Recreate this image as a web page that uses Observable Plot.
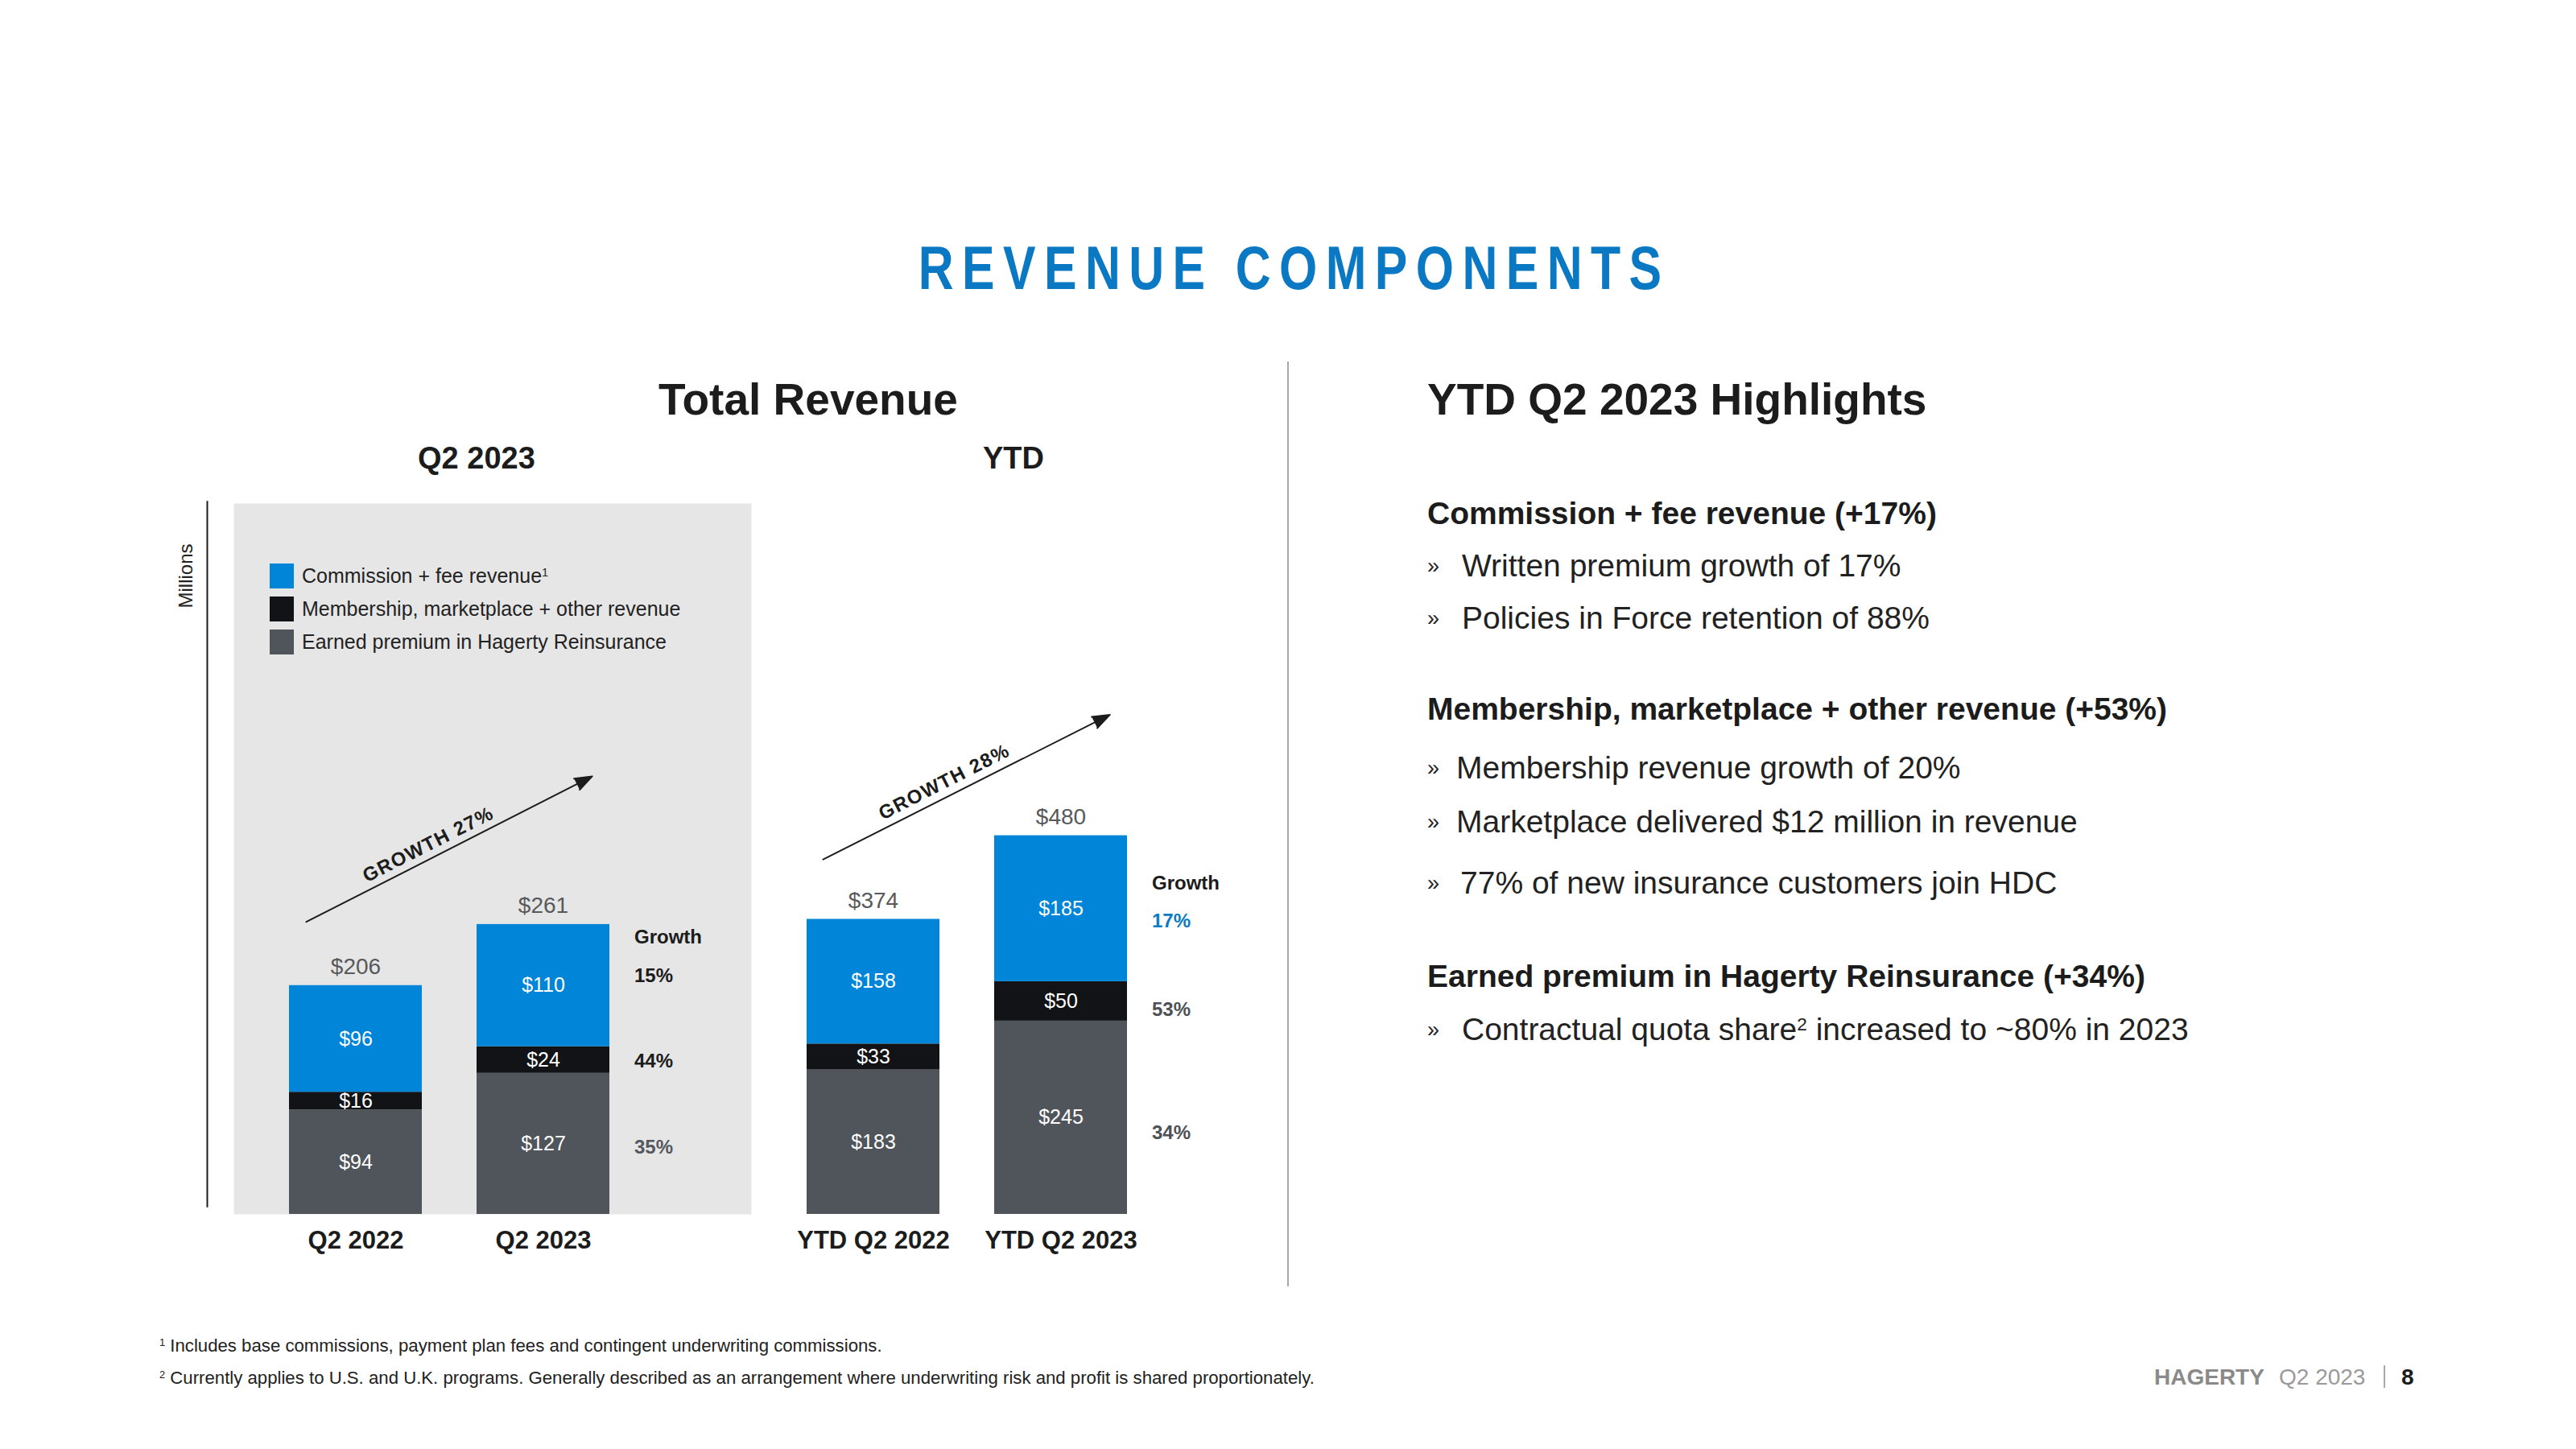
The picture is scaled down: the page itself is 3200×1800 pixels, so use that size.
<!DOCTYPE html>
<html>
<head>
<meta charset="utf-8">
<script src="https://cdn.jsdelivr.net/npm/d3@7"></script>
<script src="https://cdn.jsdelivr.net/npm/@observablehq/plot@0.6"></script>
<style>
  html, body { margin: 0; padding: 0; background: #ffffff; }
  body { width: 3200px; height: 1800px; position: relative; overflow: hidden;
         font-family: "Liberation Sans", Arial, Helvetica, sans-serif; color: #1c1c1c; }
  .abs { position: absolute; white-space: nowrap; line-height: 1; }
  .title { left: 0; width: 3200px; text-align: center; }
  .title span { display: inline-block; font-family: "Liberation Sans", Arial, sans-serif; font-weight: bold; font-size: 76px;
                letter-spacing: 13px; color: #0a78c2; transform: scaleX(0.8); transform-origin: 50% 50%; margin-left: 15px; }
  .h1 { font-weight: bold; font-size: 55px; color: #1c1c1c; }
  .h2 { font-weight: bold; font-size: 38px; color: #1c1c1c; }
  .sec { font-weight: bold; font-size: 39px; color: #1c1c1c; left: 1773px; }
  .bul { font-size: 39px; color: #222; left: 1773px; }
  .bul .mark { font-size: 27px; display: inline-block; vertical-align: 4px; }
  .bul .txt { position: absolute; top: 0; }
  .foot { font-size: 22.2px; color: #222; left: 198px; }
  sup { font-size: 0.58em; vertical-align: 0.55em; line-height: 0; }
  .legrow { position: absolute; left: 335px; height: 31px; z-index: 3; }
  .legrow .sw { position: absolute; left: 0; top: 0; width: 30px; height: 31px; }
  .legrow .lt { position: absolute; left: 40px; top: 3px; font-size: 25px; line-height: 1; color: #222; white-space: nowrap; }
  .panel { position: absolute; top: 560px; }
</style>
</head>
<body>
<div class="abs title" style="top:295px"><span>REVENUE COMPONENTS</span></div>

<div class="abs h1" id="tr" style="top:469px">Total Revenue</div>
<div class="abs h2" id="g1" style="top:550px">Q2 2023</div>
<div class="abs h2" id="g2" style="top:550px">YTD</div>

<div class="panel" id="q2panel" style="left:200px"></div>
<div class="panel" id="ytdpanel" style="left:960px"></div>
<div id="legend"></div>

<div class="abs" style="left:1599px; top:449px; width:2px; height:1149px; background:#a9a9a9"></div>

<div class="abs h1" style="left:1773px; top:469px">YTD Q2 2023 Highlights</div>
<div class="abs sec" style="top:618px">Commission + fee revenue (+17%)</div>
<div class="abs bul" style="top:683px"><span class="mark">»</span><span class="txt" style="left:43px">Written premium growth of 17%</span></div>
<div class="abs bul" style="top:748px"><span class="mark">»</span><span class="txt" style="left:43px">Policies in Force retention of 88%</span></div>
<div class="abs sec" style="top:861px">Membership, marketplace + other revenue (+53%)</div>
<div class="abs bul" style="top:934px"><span class="mark">»</span><span class="txt" style="left:36px">Membership revenue growth of 20%</span></div>
<div class="abs bul" style="top:1001px"><span class="mark">»</span><span class="txt" style="left:36px">Marketplace delivered $12 million in revenue</span></div>
<div class="abs bul" style="top:1077px"><span class="mark">»</span><span class="txt" style="left:41px">77% of new insurance customers join HDC</span></div>
<div class="abs sec" style="top:1193px">Earned premium in Hagerty Reinsurance (+34%)</div>
<div class="abs bul" style="top:1259px"><span class="mark">»</span><span class="txt" style="left:43px">Contractual quota share<sup>2</sup> increased to ~80% in 2023</span></div>

<div class="abs foot" style="top:1661px"><sup>1</sup> Includes base commissions, payment plan fees and contingent underwriting commissions.</div>
<div class="abs foot" style="top:1701px"><sup>2</sup> Currently applies to U.S. and U.K. programs. Generally described as an arrangement where underwriting risk and profit is shared proportionately.</div>

<div class="abs" style="left:2676px; top:1697px; font-size:28px; font-weight:bold; color:#8a8a8a">HAGERTY</div>
<div class="abs" style="left:2831px; top:1697px; font-size:28px; color:#9a9a9a">Q2 2023</div>
<div class="abs" style="left:2961px; top:1696px; width:2px; height:28px; background:#a8a8a8"></div>
<div class="abs" style="left:2983px; top:1697px; font-size:28px; font-weight:bold; color:#1c1c1c">8</div>

<script>
// ---------------- data ----------------
const seriesNames = ["Commission + fee revenue", "Membership, marketplace + other revenue", "Earned premium in Hagerty Reinsurance"];
const seriesNotes = ["1", "", ""];
const seriesColors = ["#0085d8", "#121316", "#50555c"];

const q2Periods = ["Q2 2022", "Q2 2023"];
const q2Commission = [96, 110];
const q2Membership = [16, 24];
const q2Earned = [94, 127];
const q2Totals = [206, 261];
const q2Growth = ["15%", "44%", "35%"];
const q2Overall = "GROWTH 27%";

const ytdPeriods = ["YTD Q2 2022", "YTD Q2 2023"];
const ytdCommission = [158, 185];
const ytdMembership = [33, 50];
const ytdEarned = [183, 245];
const ytdTotals = [374, 480];
const ytdGrowth = ["17%", "53%", "34%"];
const ytdOverall = "GROWTH 28%";

// annotation anchors, in data units ($ millions)
const q2ArrowEnds = [286, 372];
const ytdArrowEnds = [482, 602];
const q2ArrowLabelAt = 333;
const ytdArrowLabelAt = 548;

// ---------------- build ----------------
function buildRows(periods, comm, memb, earn) {
  const rows = [];
  periods.forEach((p, i) => {
    rows.push({period: p, series: seriesNames[2], si: 2, value: earn[i]});
    rows.push({period: p, series: seriesNames[1], si: 1, value: memb[i]});
    rows.push({period: p, series: seriesNames[0], si: 0, value: comm[i]});
  });
  return rows;
}

function panel(cfg) {
  const rows = buildRows(cfg.periods, cfg.comm, cfg.memb, cfg.earn);
  const last = cfg.periods[1];
  const totals = cfg.periods.map((p, i) => ({period: p, total: cfg.totals[i]}));
  const marks = [];
  if (cfg.background) {
    marks.push(Plot.frame({fill: "#e6e6e6", stroke: "none", insetLeft: cfg.bgInsetLeft, insetRight: cfg.bgInsetRight}));
  }
  if (cfg.axisLine) {
    marks.push(Plot.ruleX([cfg.periods[0]], {x: d => d, y1: cfg.axisLine[0], y2: cfg.axisLine[1], dx: cfg.axisDx, stroke: "#1c1c1c", strokeWidth: 2}));
    marks.push(Plot.text(["Millions"], {frameAnchor: "top-left", text: d => d, rotate: -90, textAnchor: "middle", lineAnchor: "middle",
      dx: cfg.millionsDx, dy: 90, fontSize: 24, fill: "#222"}));
  }
  marks.push(Plot.barY(rows, {x: "period", y: "value", fill: "series"}));
  marks.push(Plot.text(rows, Plot.stackY({x: "period", y: "value", z: "series", text: d => "$" + d.value, fill: "white", fontSize: 25})));
  marks.push(Plot.text(totals, {x: "period", y: "total", text: d => "$" + d.total, lineAnchor: "bottom", dy: -14, fontSize: 28, fill: "#58595b"}));
  marks.push(Plot.text([totals[1]], {x: "period", y: "total", text: () => "Growth", dx: 113, dy: cfg.headerDy, textAnchor: "start", fontWeight: "bold", fontSize: 24, fill: "#1c1c1c"}));
  [0, 1, 2].forEach(si => {
    marks.push(Plot.text(rows, Plot.stackY({
      x: "period", y: "value", z: "series",
      text: d => (d.period === last && d.si === si) ? cfg.growth[si] : null,
      dx: 113, dy: cfg.growthDy[si], textAnchor: "start", fontWeight: "bold", fontSize: 24, fill: cfg.growthFill[si]
    })));
  });
  marks.push(Plot.arrow([{a: cfg.periods[0], b: last, ya: cfg.arrowEnds[0], yb: cfg.arrowEnds[1]}], {
    x1: "a", y1: "ya", x2: "b", y2: "yb", insetStart: cfg.insetStart, insetEnd: cfg.insetEnd,
    stroke: "#1c1c1c", fill: "#1c1c1c", strokeWidth: 2, headLength: 17, headAngle: 40
  }));
  marks.push(Plot.text([{p: cfg.periods[0], y: cfg.labelAt, t: cfg.overall}], {
    x: "p", y: "y", text: "t", rotate: -27, dx: cfg.labelDx, fontSize: 24, fontWeight: "bold", fill: "#1c1c1c"
  }));
  marks.push(Plot.axisX({tickSize: 0, tickPadding: 20, fontSize: 31, fontWeight: "bold", label: null, color: "#1c1c1c"}));

  const svg = Plot.plot({
    width: cfg.width, height: 1020,
    marginTop: 65, marginBottom: 72, marginLeft: cfg.marginLeft, marginRight: cfg.marginRight,
    x: {domain: cfg.periods, paddingInner: 0.292, paddingOuter: 0},
    y: {domain: [0, cfg.ymax], axis: null},
    color: {domain: seriesNames, range: seriesColors},
    style: {background: "transparent", maxWidth: "none", overflow: "visible",
            fontFamily: "'Liberation Sans', Arial, Helvetica, sans-serif", color: "#1c1c1c"},
    marks
  });
  d3.select(svg).selectAll("text").filter(function() { return /^GROWTH/.test(this.textContent); })
    .attr("letter-spacing", "1.5px");
  return svg;
}

document.getElementById("q2panel").appendChild(panel({
  periods: q2Periods, comm: q2Commission, memb: q2Membership, earn: q2Earned, totals: q2Totals,
  growth: q2Growth, growthFill: ["#1c1c1c", "#1c1c1c", "#55595f"], growthDy: [-12, 2, 4], headerDy: 16,
  overall: q2Overall, arrowEnds: q2ArrowEnds, labelAt: q2ArrowLabelAt, labelDx: 90,
  insetStart: -69, insetEnd: -68,
  width: 760, marginLeft: 159, marginRight: 203, ymax: 640,
  background: true, bgInsetLeft: -69, bgInsetRight: -176,
  axisLine: [6, 642], axisDx: -184.5, millionsDx: -128
}));

document.getElementById("ytdpanel").appendChild(panel({
  periods: ytdPeriods, comm: ytdCommission, memb: ytdMembership, earn: ytdEarned, totals: ytdTotals,
  growth: ytdGrowth, growthFill: ["#0a7bc4", "#4d5157", "#4d5157"], growthDy: [16, 10, 19], headerDy: 59,
  overall: ytdOverall, arrowEnds: ytdArrowEnds, labelAt: ytdArrowLabelAt, labelDx: 88,
  insetStart: -70, insetEnd: -68,
  width: 620, marginLeft: 42, marginRight: 180, ymax: 901,
  background: false
}));

// legend (HTML swatches, same colour arrays)
const legend = document.getElementById("legend");
seriesNames.forEach((name, i) => {
  const row = document.createElement("div");
  row.className = "legrow";
  row.style.top = (700 + i * 41) + "px";
  const sw = document.createElement("div");
  sw.className = "sw"; sw.style.background = seriesColors[i];
  const lt = document.createElement("div");
  lt.className = "lt";
  lt.textContent = name;
  if (seriesNotes[i]) { const s = document.createElement("sup"); s.textContent = seriesNotes[i]; lt.appendChild(s); }
  row.appendChild(sw); row.appendChild(lt);
  legend.appendChild(row);
});

// centre the headings over their groups
function centerAt(id, cx) {
  const el = document.getElementById(id);
  el.style.left = (cx - el.offsetWidth / 2) + "px";
}
centerAt("tr", 1004);
centerAt("g1", 592);
centerAt("g2", 1259);
</script>
</body>
</html>
